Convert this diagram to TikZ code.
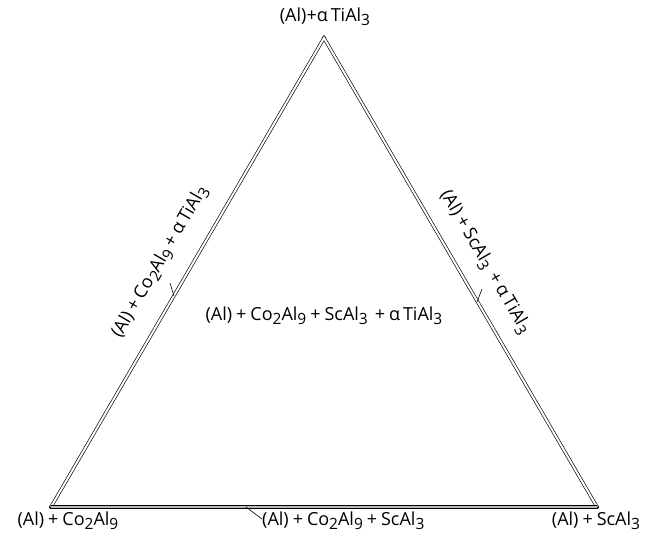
\documentclass[tikz,border=0pt]{standalone}
\usepackage{fontspec}
\setmainfont{Open Sans}
\newcommand\dn[1]{\raisebox{-0.45ex}{\fontsize{15.5pt}{15pt}\selectfont #1}}
\newcommand\pl{\hspace{0.22em}+\hspace{0.22em}}
\begin{document}
\begin{tikzpicture}[x=1pt,y=-1pt,
  edge/.style={double=white,double distance=2pt,line width=0.65pt},
  lbl/.style={inner sep=1pt,font=\fontsize{18pt}{18pt}\selectfont},
  tick/.style={line width=0.6pt},
  vtx/.style={circle,fill=black,inner sep=0pt,minimum size=4pt}]
\useasboundingbox (0,0) rectangle (646,533);
\node[vtx] (T) at (324,38) {};
\node[vtx] (L) at (51,507) {};
\node[vtx] (R) at (597,507) {};
\draw[edge] (L.center) -- (T.center) -- (R.center);
\draw[edge,double=gray!55] (L.center) -- (R.center);
\node[lbl] (tl) at (325,17) {(Al)+α\,TiAl\dn{3}};
\node[lbl] (bl) at (68,521) {(Al)\pl Co\dn{2}Al\dn{9}};
\node[lbl] (br) at (596,521) {(Al)\pl ScAl\dn{3}};
\node[lbl,anchor=west] (bm) at (261,521) {(Al)\pl Co\dn{2}Al\dn{9}\pl ScAl\dn{3}};
\node[lbl] (cm) at (324,316) {(Al)\pl Co\dn{2}Al\dn{9}\pl ScAl\dn{3}\,\pl α\,TiAl\dn{3}};
\node[lbl,rotate=59.8] (le) at (160,262) {(Al)\pl Co\dn{2}Al\dn{9}\pl α\,TiAl\dn{3}};
\node[lbl,rotate=-59.8] (re) at (485,262) {(Al)\pl ScAl\dn{3}\,\pl α\,TiAl\dn{3}};
\coordinate (la) at (174,296);
\coordinate (lb) at (170,283);
\draw[tick] (la) -- (lb);
\coordinate (ra) at (477,302);
\coordinate (rb) at (482,289);
\draw[tick] (ra) -- (rb);
\coordinate (ba) at (246,507);
\coordinate (bb) at (262,519);
\draw[tick] (ba) -- (bb);
\end{tikzpicture}
\end{document}
